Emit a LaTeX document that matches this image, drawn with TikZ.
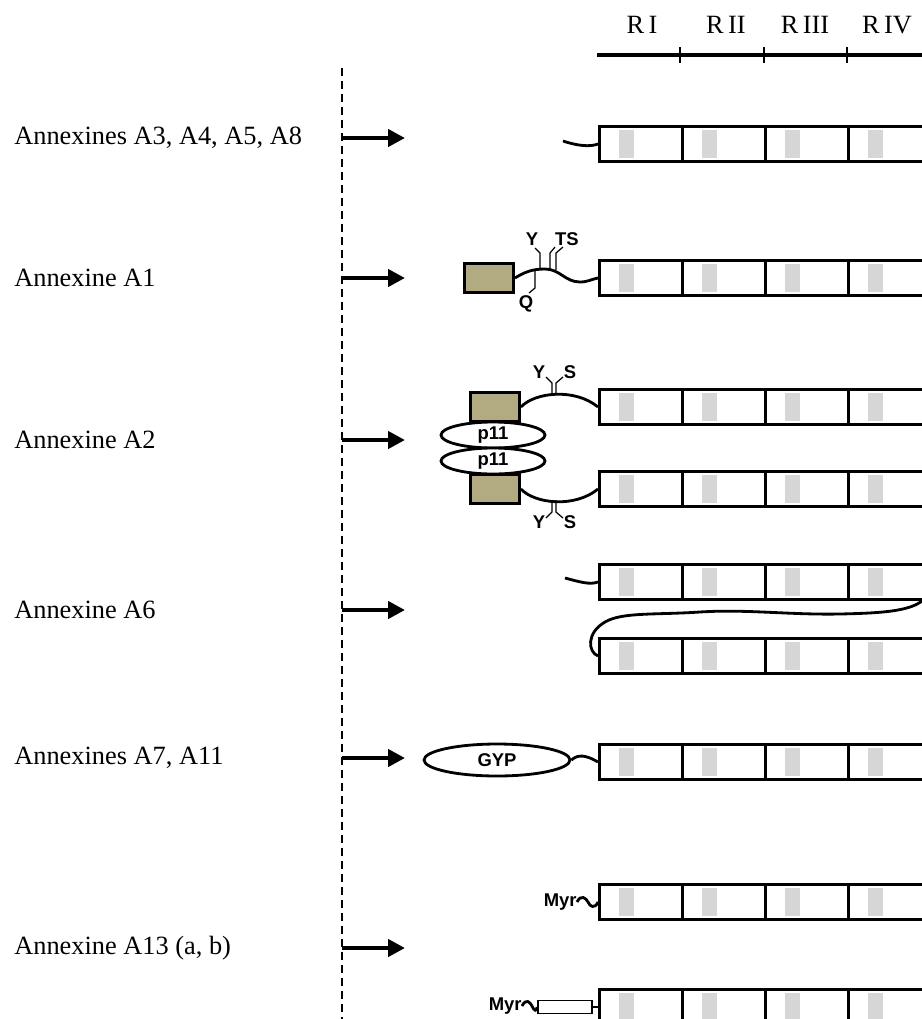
\documentclass[tikz,border=0pt]{standalone}
\usepackage{fontspec}
\setmainfont{Liberation Serif}
\newfontfamily\markfont{Liberation Sans}
\usetikzlibrary{shapes.geometric,arrows.meta}

\definecolor{tanfill}{RGB}{178,170,128}

% four repeats of the annexin core, left edge at x=598
\newcommand{\annrow}[2]{%
  \foreach \k in {0,...,3}{\node[seg] (#1-\k) at ({598+83*\k},#2) {};}}

\begin{document}
\begin{tikzpicture}[x=0.02cm,y=-0.02cm,
 seg/.style={rectangle,draw,line width=1.6pt,minimum width=1.66cm,minimum height=0.7cm,
   inner sep=0pt,anchor=west,
   path picture={\fill[gray!32] ([xshift=0.4cm,yshift=-0.07cm]path picture bounding box.north west)
     rectangle ([xshift=0.7cm,yshift=0.07cm]path picture bounding box.south west);}},
 tail/.style={line width=1.6pt},
 site/.style={line width=0.7pt},
 tagbox/.style={rectangle,draw,fill=tanfill,line width=1.6pt,minimum width=0.98cm,minimum height=0.58cm,inner sep=0pt},
 blob/.style={ellipse,draw,fill=white,line width=1.6pt,inner sep=0pt,font=\markfont\bfseries\fontsize{10.5}{12}\selectfont},
 sitelab/.style={inner sep=0pt,font=\markfont\bfseries\fontsize{10.5}{12}\selectfont},
 rowlab/.style={anchor=west,inner sep=0pt,font=\fontsize{15}{18}\selectfont},
 pointer/.style={line width=2.4pt,-{Triangle[length=0.34cm,width=0.34cm]}}]
\useasboundingbox (0,0) rectangle (922,1019);
\clip (0,0) rectangle (922,1019);

% repeat scale
\draw[line width=2.4pt] (597,55) -- (922,55);
\foreach \x in {680,764,847}{\draw[line width=1.1pt] (\x,47) -- (\x,63);}
\foreach \x/\r in {642/I,726/II,805/III,887/IV}{
  \node[rowlab,anchor=center] (rep\r) at (\x,25) {R\,\r};}

% row labels and arrows
\draw[line width=0.9pt,dash pattern=on 0.16cm off 0.1cm] (342,68) -- (342,1025);
\foreach \y/\txt [count=\i] in {138/{Annexines A3, A4, A5, A8},278/{Annexine A1},
  440/{Annexine A2},610/{Annexine A6},758/{Annexines A7, A11},948/{Annexine A13 (a, b)}}{
  \node[rowlab] (lab\i) at (14,\y) {\txt};
  \coordinate (ar\i-s) at (342,\y);
  \coordinate (ar\i-e) at (405,\y);
  \draw[pointer] (ar\i-s) -- (ar\i-e);
}

% A3, A4, A5, A8
\annrow{r1}{144}
\coordinate (r1-n) at (563,141);
\draw[tail] (r1-n) .. controls (578,146) and (590,147) .. (r1-0.west);

% A1
\annrow{a1}{278}
\node[tagbox] (a1-tag) at (489,278) {};
\draw[tail] (a1-tag.east) .. controls (525,272) and (532,269) .. (545,269)
  .. controls (560,269) and (565,282) .. (580,282)
  .. controls (588,282) and (592,279) .. (a1-0.west);
\draw[site] (540,269) -- (540,253) -- (535,248);
\draw[site] (550,269) -- (550,253) -- (555,247);
\draw[site] (556,270) -- (556,253) -- (563,247);
\draw[site] (535,271) -- (535,288) -- (529,293);
\node[sitelab] (a1-y) at (532,239) {Y};
\node[sitelab] (a1-ts) at (567,239) {TS};
\node[sitelab] (a1-q) at (526,304) {Q};

% A2 (heterotetramer with p11)
\annrow{a2u}{407}
\annrow{a2l}{489}
\node[tagbox] (a2-tagu) at (495,407) {};
\node[tagbox] (a2-tagl) at (495,489) {};
\node[blob,minimum width=2.08cm,minimum height=0.52cm] (a2-p11u) at (493,435) {p11};
\node[blob,minimum width=2.08cm,minimum height=0.52cm] (a2-p11l) at (493,461) {p11};
\draw[tail] (a2-tagu.east) .. controls (535,392) and (575,388) .. (a2u-0.west);
\draw[tail] (a2-tagl.east) .. controls (535,504) and (575,508) .. (a2l-0.west);
\draw[site] (552,395) -- (552,383) -- (546,377);
\draw[site] (556,395) -- (556,383) -- (563,377);
\draw[site] (552,500) -- (552,512) -- (546,518);
\draw[site] (556,500) -- (556,512) -- (563,518);
\node[sitelab] (a2-yu) at (539,372) {Y};
\node[sitelab] (a2-su) at (570,372) {S};
\node[sitelab] (a2-yl) at (539,522) {Y};
\node[sitelab] (a2-sl) at (570,522) {S};

% A6 (two cores joined by a linker)
\annrow{a6u}{582}
\annrow{a6l}{656}
\coordinate (a6-n) at (565,578);
\coordinate (a6-c) at (926,597);
\draw[tail] (a6-n) .. controls (580,582) and (590,585) .. (a6u-0.west);
\draw[tail] (a6-c) .. controls (915,611) and (885,613) .. (840,614)
  .. controls (790,615) and (745,609) .. (700,612)
  .. controls (655,615) and (622,612) .. (605,622)
  .. controls (586,633) and (588,652) .. (a6l-0.west);

% A7, A11
\annrow{a7}{762}
\node[blob,minimum width=2.92cm,minimum height=0.64cm] (a7-gyp) at (497,760) {GYP};
\draw[tail] (a7-gyp.east) .. controls (578,754) and (586,755) .. (a7-0.west);

% A13 (a, b)
\annrow{a13u}{902}
\annrow{a13l}{1007}
\node[sitelab,anchor=east] (a13-myru) at (577,902) {Myr};
\draw[tail] (a13-myru.east) .. controls (581,894) and (586,898) .. (588,902)
  .. controls (590,907) and (595,909) .. (a13u-0.west);
\node[rectangle,draw,line width=1.1pt,minimum width=1.08cm,minimum height=0.26cm,inner sep=0pt]
  (a13-pep) at (565,1007) {};
\node[sitelab,anchor=east] (a13-myrl) at (522,1006) {Myr};
\draw[tail] (a13-myrl.east) .. controls (526,998) and (530,1002) .. (532,1006)
  .. controls (534,1011) and (537,1012) .. (a13-pep.west);
\draw[tail] (a13-pep.east) -- (a13l-0.west);
\end{tikzpicture}
\end{document}
